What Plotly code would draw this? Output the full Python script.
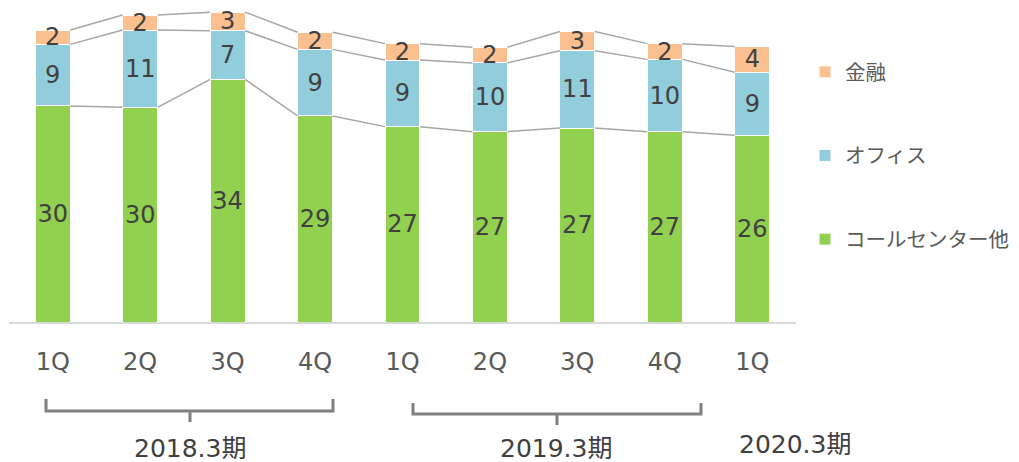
import plotly.graph_objects as go

# ---- data ----
quarters = ["1Q", "2Q", "3Q", "4Q", "1Q", "2Q", "3Q", "4Q", "1Q"]
callcenter = [30.2, 30.0, 33.9, 28.8, 27.3, 26.6, 27.1, 26.6, 26.1]
office = [8.6, 10.8, 6.8, 9.3, 9.3, 9.6, 10.8, 10.1, 8.8]
finance = [2.0, 2.1, 2.6, 2.4, 2.3, 2.2, 2.7, 2.2, 3.6]
series_names = ["コールセンター他", "オフィス", "金融"]
legend_ranks = [3, 2, 1]
periods = ["2018.3期", "2019.3期", "2020.3期"]

# ---- style ----
colors = ["#92D050", "#92CDDC", "#FAC090"]
FONT = "'DejaVu Sans', 'Noto Sans CJK JP', sans-serif"
TXT = "#404040"
TICK = "#595959"
BAR_W = 0.4
OFF = 8  # page body margin offset
W, H = 1019 - OFF, 462 - OFF
L_MARGIN, R_MARGIN, T_MARGIN, B_MARGIN = 1, 223, 0, 140
PLOT_W = W - L_MARGIN - R_MARGIN
PLOT_H = H - T_MARGIN - B_MARGIN
YMAX = PLOT_H / 7.156

x = list(range(len(quarters)))
series = [callcenter, office, finance]

fig = go.Figure()
for i, (name, vals) in enumerate(zip(series_names, series)):
    fig.add_trace(go.Bar(
        x=x, y=vals, name=name, width=BAR_W,
        marker=dict(color=colors[i], line=dict(color="white", width=1)),
        texttemplate="%{y:.0f}", textposition="inside",
        insidetextanchor="middle", constraintext="none", textangle=0,
        textfont=dict(size=24, color=TXT, family=FONT),
        legendgroup=name, legendrank=legend_ranks[i], showlegend=True,
        cliponaxis=False,
    ))

# series lines connecting tops of each segment
cum = [0.0] * len(x)
for vals in series:
    cum = [c + v for c, v in zip(cum, vals)]
    lx, ly = [], []
    for i in range(len(x) - 1):
        lx += [x[i] + BAR_W / 2, x[i + 1] - BAR_W / 2, None]
        ly += [cum[i], cum[i + 1], None]
    fig.add_trace(go.Scatter(x=lx, y=ly, mode="lines",
                             line=dict(color="#A6A6A6", width=1.5),
                             showlegend=False, hoverinfo="skip",
                             cliponaxis=False))


def px2paper_x(px):
    return (px - OFF - L_MARGIN) / PLOT_W


def px2paper_y(py):
    return (T_MARGIN + PLOT_H - (py - OFF)) / PLOT_H


# brackets (reference-pixel layout positions)
brackets = [
    dict(x0=46, x1=333, xc=190, top=399, mid=411, tip=422),
    dict(x0=413, x1=701, xc=557, top=403, mid=414, tip=425),
]
for b in brackets:
    x0, x1, xc = px2paper_x(b["x0"]), px2paper_x(b["x1"]), px2paper_x(b["xc"])
    yt, ym, yp = px2paper_y(b["top"]), px2paper_y(b["mid"]), px2paper_y(b["tip"])
    path = (f"M {x0},{yt} L {x0},{ym} L {x1},{ym} L {x1},{yt} "
            f"M {xc},{ym} L {xc},{yp}")
    fig.add_shape(type="path", path=path, xref="paper", yref="paper",
                  line=dict(color="#7F7F7F", width=3))

# period labels
label_pos = [(190, 448), (556, 448), (795, 444)]
for text, (px, py) in zip(periods, label_pos):
    fig.add_annotation(text=text, xref="paper", yref="paper",
                       x=px2paper_x(px), y=px2paper_y(py),
                       showarrow=False, xanchor="center", yanchor="middle",
                       font=dict(size=25, color=TXT, family=FONT))

fig.update_layout(
    width=W, height=H,
    barmode="stack", bargap=0.6,
    plot_bgcolor="white", paper_bgcolor="white",
    margin=dict(l=L_MARGIN, r=R_MARGIN, t=T_MARGIN, b=B_MARGIN,
                autoexpand=False),
    font=dict(family=FONT, color=TICK),
    xaxis=dict(tickvals=x, ticktext=quarters, range=[-0.5, len(x) - 0.5],
               showline=True, linecolor="#D9D9D9", linewidth=2,
               showgrid=False, zeroline=False, ticks="",
               ticklabelstandoff=17, automargin=False,
               tickfont=dict(size=24, color=TICK, family=FONT)),
    yaxis=dict(range=[0, YMAX], visible=False, showgrid=False,
               automargin=False),
    legend=dict(x=px2paper_x(805), xanchor="left",
                y=px2paper_y(52), yanchor="top",
                traceorder="grouped", tracegroupgap=54,
                font=dict(size=20.5, color=TICK, family=FONT),
                bgcolor="rgba(0,0,0,0)"),
    showlegend=True,
)

fig.write_html("out.html")
